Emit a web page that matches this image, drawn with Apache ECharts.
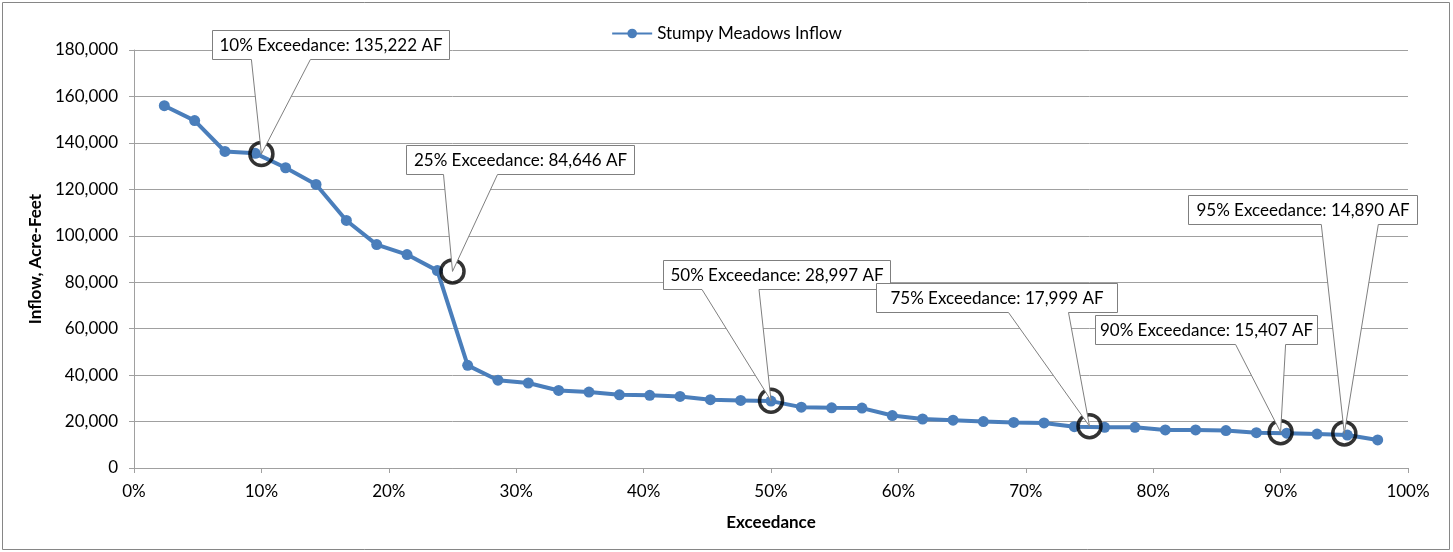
<!DOCTYPE html>
<html>
<head>
<meta charset="utf-8">
<script src="https://cdn.jsdelivr.net/npm/echarts@6/dist/echarts.min.js"></script>
<style>
html,body{margin:0;padding:0;background:#fff;}
#chart{width:1453px;height:552px;}
</style>
</head>
<body>
<div id="chart"></div>
<script>
// ---- data ----
const seriesName = 'Stumpy Meadows Inflow';
const exceedancePct = [2.38, 4.76, 7.14, 9.52, 11.90, 14.29, 16.67, 19.05, 21.43, 23.81,
  26.19, 28.57, 30.95, 33.33, 35.71, 38.10, 40.48, 42.86, 45.24, 47.62,
  50.00, 52.38, 54.76, 57.14, 59.52, 61.90, 64.29, 66.67, 69.05, 71.43,
  73.81, 76.19, 78.57, 80.95, 83.33, 85.71, 88.10, 90.48, 92.86, 95.24, 97.62];
const inflowAF = [156000, 149600, 136300, 135500, 129300, 122100, 106600, 96200, 91900, 85000,
  44200, 37800, 36600, 33400, 32700, 31500, 31300, 30800, 29400, 29100,
  28800, 26200, 25900, 25800, 22600, 21100, 20600, 20000, 19600, 19400,
  17800, 17500, 17500, 16400, 16400, 16100, 15200, 15000, 14600, 14200, 12100];
const markPct = [10, 25, 50, 75, 90, 95];
const markAF = [135222, 84646, 28997, 17999, 15407, 14890];
const markLabels = ['10% Exceedance: 135,222 AF', '25% Exceedance: 84,646 AF', '50% Exceedance: 28,997 AF',
  '75% Exceedance: 17,999 AF', '90% Exceedance: 15,407 AF', '95% Exceedance: 14,890 AF'];

// ---- layout of callouts (pixel offsets from the marked point) ----
// [boxDx, boxDy, boxWidth, wedgeBase1Dx, wedgeBase2Dx]
const calloutLayout = [
  [-49, -124, 237, -10, 49],
  [-47, -126, 228, -9, 45],
  [-108, -141, 227, -69, -12],
  [-214, -143, 241, -81, -21],
  [-186, -117, 222, -45, 5],
  [-156, -238, 229, -23, 34]
];
const boxH = 29;
const FONT = 'Lato, "Open Sans", sans-serif';

const chart = echarts.init(document.getElementById('chart'));
const lineData = exceedancePct.map((x, i) => [x, inflowAF[i]]);
const markData = markPct.map((x, i) => [x, markAF[i]]);

const option = {
  animation: false,
  backgroundColor: '#fff',
  textStyle: { fontFamily: FONT },
  graphic: [{
    type: 'rect', silent: true, z: -1,
    shape: { x: 2.5, y: 2.5, width: 1447, height: 547 },
    style: { fill: 'none', stroke: '#868686', lineWidth: 1 }
  }],
  legend: {
    data: [seriesName],
    top: 20, left: 'center',
    itemWidth: 40, itemHeight: 12, itemGap: 4,
    textStyle: { fontFamily: FONT, fontSize: 17, color: '#000' }
  },
  grid: { left: 134, right: 45, top: 50, bottom: 84, containLabel: false },
  xAxis: {
    type: 'value', min: 0, max: 100, interval: 10,
    name: 'Exceedance', nameLocation: 'middle', nameGap: 46,
    nameTextStyle: { fontFamily: FONT, fontSize: 17, fontWeight: 'bold', color: '#000' },
    axisLine: { show: true, lineStyle: { color: '#a0a0a0', width: 1 } },
    axisTick: { show: true, length: 5, lineStyle: { color: '#a0a0a0' } },
    axisLabel: { formatter: '{value}%', fontFamily: FONT, fontSize: 17, color: '#000', margin: 15 },
    splitLine: { show: false }
  },
  yAxis: {
    type: 'value', min: 0, max: 180000, interval: 20000,
    name: 'Inflow, Acre-Feet', nameLocation: 'middle', nameGap: 88, nameRotate: 90,
    nameTextStyle: { fontFamily: FONT, fontSize: 17, fontWeight: 'bold', color: '#000' },
    axisLine: { show: true, lineStyle: { color: '#a0a0a0', width: 1 } },
    axisTick: { show: true, length: 5, lineStyle: { color: '#a0a0a0' } },
    axisLabel: {
      fontFamily: FONT, fontSize: 17, color: '#000', margin: 16,
      formatter: v => v.toLocaleString('en-US')
    },
    splitLine: { show: true, lineStyle: { color: '#a0a0a0', width: 1 } }
  },
  series: [
    {
      name: seriesName, type: 'line', data: lineData, z: 2,
      symbol: 'circle', symbolSize: 11, showSymbol: true,
      lineStyle: { color: '#4a7ebb', width: 4 },
      itemStyle: { color: '#4a7ebb' }
    },
    {
      name: 'Exceedance marks', type: 'scatter', data: markData, z: 3,
      symbol: 'circle', symbolSize: 23,
      itemStyle: { color: 'rgba(0,0,0,0)', borderColor: '#000', borderWidth: 3.5 }
    },
    {
      name: 'Callouts', type: 'custom', data: markData, z: 4, clip: false,
      renderItem: function (params, api) {
        const i = params.dataIndex;
        const p = api.coord([api.value(0), api.value(1)]);
        const L = calloutLayout[i];
        const bx = Math.round(p[0] + L[0]) + 0.5;
        const by = Math.round(p[1] + L[1]) + 0.5;
        const w = L[2], h = boxH;
        const b1 = p[0] + L[3], b2 = p[0] + L[4];
        const pts = [
          [bx, by], [bx + w, by], [bx + w, by + h],
          [b2, by + h], [p[0], p[1]], [b1, by + h], [bx, by + h]
        ];
        return {
          type: 'group',
          children: [
            { type: 'polygon', shape: { points: pts },
              style: { fill: '#fff', stroke: '#7f7f7f', lineWidth: 1 } },
            { type: 'text',
              style: { text: markLabels[i], x: bx + w / 2, y: by + h / 2 + 1,
                align: 'center', verticalAlign: 'middle',
                fontFamily: FONT, fontSize: 17, fill: '#000' } }
          ]
        };
      }
    }
  ]
};
chart.setOption(option);
</script>
</body>
</html>
